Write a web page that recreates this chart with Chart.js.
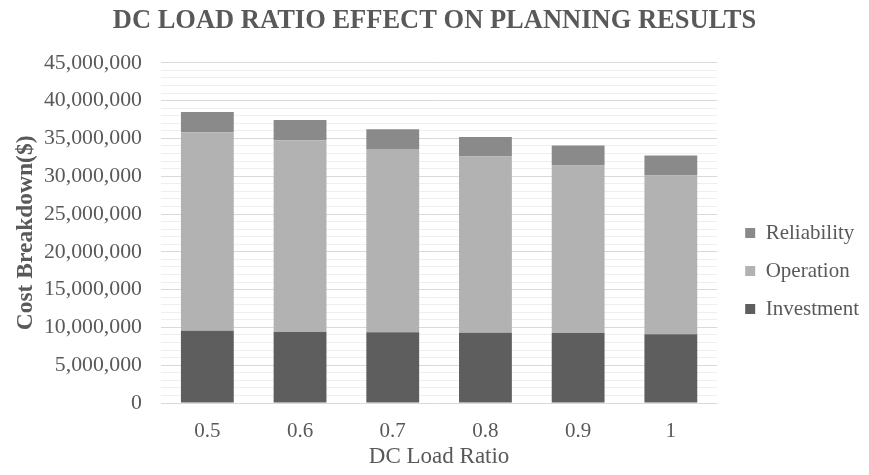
<!DOCTYPE html>
<html>
<head>
<meta charset="utf-8">
<script src="https://cdn.jsdelivr.net/npm/chart.js@4/dist/chart.umd.min.js"></script>
<style>
  html, body { margin: 0; padding: 0; background: #ffffff; }
  #wrap { width: 869px; height: 475px; }
</style>
</head>
<body>
<div id="wrap"><canvas id="c" width="869" height="475"></canvas></div>
<script>
// DC load ratios on the x axis
const loadRatios = ['0.5', '0.6', '0.7', '0.8', '0.9', '1'];
// Cost components in dollars, stacked bottom to top
const investment  = [9570000, 9400000, 9350000, 9300000, 9260000, 9080000];
const operation   = [26230000, 25350000, 24250000, 23300000, 22140000, 21000000];
const reliability = [2700000, 2700000, 2600000, 2600000, 2650000, 2650000];
// Value axis range and steps
const yMax = 45000000;
const yMinorStep = 1000000;
const yLabelStep = 5000000;

const textColor = '#595959';
const serif = "'Liberation Serif', 'Times New Roman', serif";

new Chart(document.getElementById('c'), {
  type: 'bar',
  data: {
    labels: loadRatios,
    datasets: [
      { label: 'Investment', data: investment, backgroundColor: '#5e5e5e' },
      { label: 'Operation', data: operation, backgroundColor: '#b2b2b2' },
      { label: 'Reliability', data: reliability, backgroundColor: '#8a8a8a' }
    ]
  },
  options: {
    responsive: false,
    animation: false,
    devicePixelRatio: 1,
    layout: { padding: { left: 0, right: 0, top: 0, bottom: 0 } },
    datasets: { bar: { categoryPercentage: 1.0, barPercentage: 0.57 } },
    plugins: {
      title: {
        display: true,
        text: 'DC LOAD RATIO EFFECT ON PLANNING RESULTS',
        color: textColor,
        font: { family: serif, size: 26.5, weight: 'bold' },
        padding: { top: 5, bottom: 26 }
      },
      legend: {
        position: 'right',
        reverse: true,
        title: { display: true, text: '', font: { size: 10, lineHeight: 1 }, padding: { top: 57, bottom: 0 } },
        labels: {
          color: textColor,
          font: { family: serif, size: 21 },
          boxWidth: 10,
          boxHeight: 10,
          padding: 17
        }
      },
      tooltip: { enabled: false }
    },
    scales: {
      x: {
        stacked: true,
        grid: { display: false, drawTicks: false },
        border: { display: false },
        ticks: { color: textColor, font: { family: serif, size: 21 }, padding: 15.5 },
        title: {
          display: true,
          text: 'DC Load Ratio',
          color: textColor,
          font: { family: serif, size: 23 },
          // tick padding is counted twice in the axis height, so pull the title up
          padding: { top: -16, bottom: 4.2 }
        }
      },
      y: {
        stacked: true,
        min: 0,
        max: yMax,
        afterFit: s => { s.width = 161; },
        border: { display: false },
        grid: {
          drawTicks: false,
          lineWidth: 1,
          color: ctx => (ctx.tick && ctx.tick.value % yLabelStep === 0) ? '#d9d9d9' : '#efefef'
        },
        ticks: {
          stepSize: yMinorStep,
          autoSkip: false,
          padding: 19,
          color: textColor,
          font: { family: serif, size: 21.8 },
          callback: v => (v % yLabelStep === 0) ? v.toLocaleString('en-US') : ''
        },
        title: {
          display: true,
          text: 'Cost Breakdown($)',
          color: textColor,
          font: { family: serif, size: 23.5, weight: 'bold' },
          padding: { top: 12, bottom: 0 }
        }
      },
      spacer: {
        type: 'linear',
        axis: 'y',
        position: 'right',
        display: true,
        grid: { display: false },
        border: { display: false },
        ticks: { display: false },
        afterFit: s => { s.width = 11; }
      }
    }
  }
});
</script>
</body>
</html>
